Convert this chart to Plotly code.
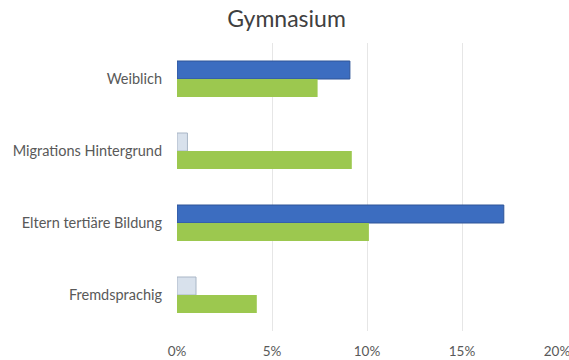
import plotly.graph_objects as go

categories = ["Weiblich", "Migrations Hintergrund", "Eltern tertiäre Bildung", "Fremdsprachig"]
series_a = [9.1, 0.55, 17.2, 1.0]
series_b = [7.4, 9.2, 10.1, 4.2]
colors_a = ["#3C6DC0", "#D8E1EC", "#3C6DC0", "#D8E1EC"]
borders_a = ["#2F5597", "#A9B6C6", "#2F5597", "#A9B6C6"]
tick_vals = [0, 5, 10, 15, 20]
tick_text = ["0%", "5%", "10%", "15%", "20%"]

fig = go.Figure()
fig.add_trace(go.Bar(y=categories, x=series_a, orientation="h",
                     marker=dict(color=colors_a, line=dict(color=borders_a, width=1)),
                     showlegend=False))
fig.add_trace(go.Bar(y=categories, x=series_b, orientation="h",
                     marker=dict(color="#9CC84F", line=dict(width=0)),
                     showlegend=False))

fig.update_layout(
    width=569, height=360,
    margin=dict(l=177, r=12, t=43, b=29, autoexpand=False),
    paper_bgcolor="white", plot_bgcolor="white",
    barmode="group", bargap=0.5, bargroupgap=0,
    font=dict(family="Lato, sans-serif", color="#595959", size=12),
    title=dict(text="Gymnasium", x=0.5035, xanchor="center", y=0.947, yanchor="middle",
               font=dict(size=23, color="#404040", family="Lato, sans-serif")),
)
fig.update_xaxes(range=[0, 20], tickvals=tick_vals, ticktext=tick_text,
                 showgrid=True, gridcolor="#E6E6E6", gridwidth=1,
                 zeroline=False, showline=False, ticks="", fixedrange=True,
                 automargin=False, ticklabeloverflow="allow", ticklabelstandoff=10,
                 tickfont=dict(size=13.5, color="#595959"))
fig.update_yaxes(autorange="reversed", showgrid=False, showline=False, ticks="",
                 automargin=False, ticklabelstandoff=14, fixedrange=True,
                 tickfont=dict(size=14.5, color="#595959"))

fig.write_html("out.html",
               config={"displayModeBar": False},
               post_script="document.body.style.margin='0';document.body.style.overflow='hidden';")
